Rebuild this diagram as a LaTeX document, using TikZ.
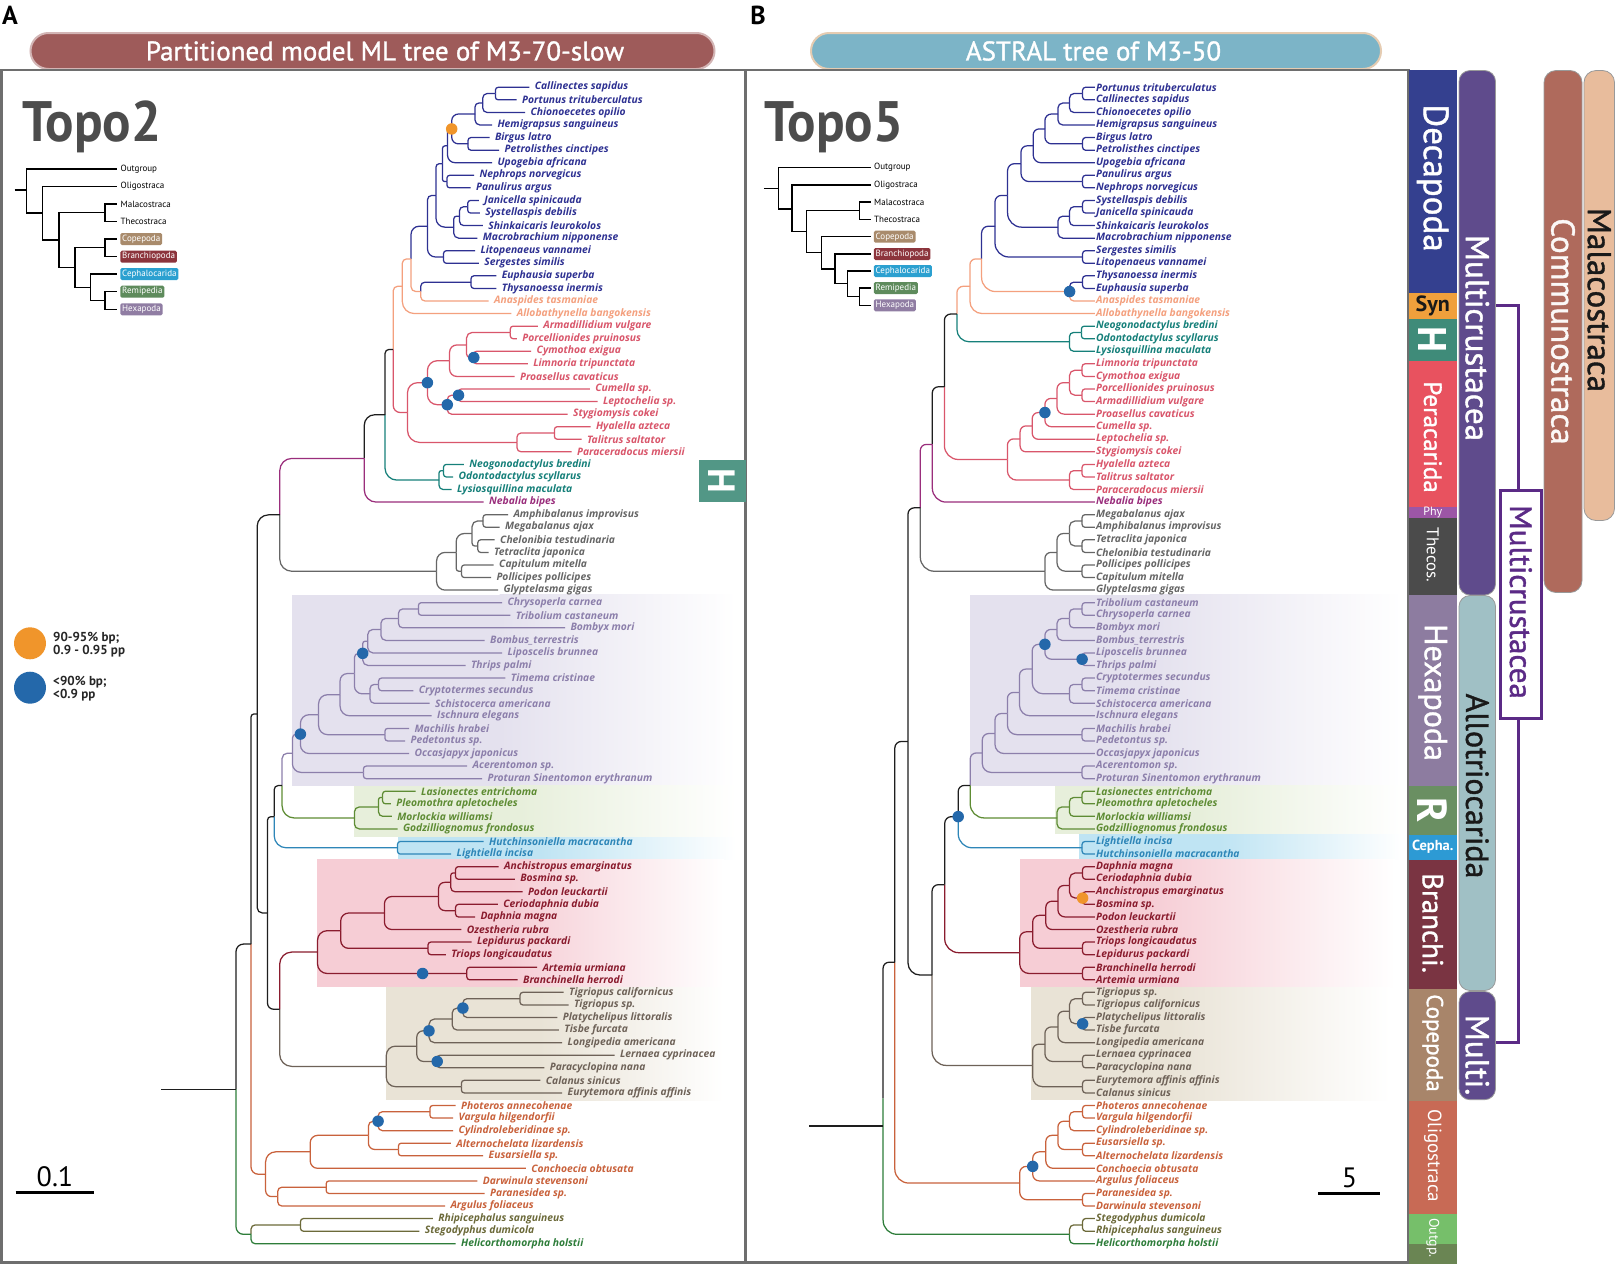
\documentclass[tikz,border=0pt]{standalone}
\usepackage{fontspec}
\setmainfont{PT Sans}
\newfontfamily\leaff{Open Sans}
\newfontfamily\topof[FakeStretch=0.93]{PT Sans}
\newfontfamily\titf[FakeBold=1.2]{PT Sans}
\usetikzlibrary{calc}
\definecolor{cDec}{HTML}{2E3192}
\definecolor{cSyn}{HTML}{F4A07E}
\definecolor{cPer}{HTML}{D9566B}
\definecolor{cSto}{HTML}{16807A}
\definecolor{cPhy}{HTML}{9A2E7C}
\definecolor{cThe}{HTML}{666666}
\definecolor{cHex}{HTML}{8C7FAB}
\definecolor{cRem}{HTML}{5E8C34}
\definecolor{cCep}{HTML}{2E86B8}
\definecolor{cBra}{HTML}{8A1C2E}
\definecolor{cCop}{HTML}{6E6258}
\definecolor{cOli}{HTML}{C9623C}
\definecolor{cOut}{HTML}{2E7D3A}
\definecolor{cOlv}{HTML}{6C6A3A}
\definecolor{cBlk}{HTML}{1E1E1E}
\definecolor{cDotB}{HTML}{2468AA}
\definecolor{cDotO}{HTML}{F0952B}
\definecolor{cFrame}{HTML}{6E6E6E}
\definecolor{bgHex}{HTML}{E4E1EE}
\definecolor{bgRem}{HTML}{E7EFDB}
\definecolor{bgCep}{HTML}{BFE4F3}
\definecolor{bgBra}{HTML}{F6CDD5}
\definecolor{bgCop}{HTML}{E9E3D6}
\definecolor{barDec}{HTML}{34408F}
\definecolor{barSyn}{HTML}{F0A03C}
\definecolor{barH}{HTML}{3F8B79}
\definecolor{barPer}{HTML}{E8525F}
\definecolor{barPhy}{HTML}{9C56A6}
\definecolor{barThe}{HTML}{4B4B4B}
\definecolor{barHex}{HTML}{8D7CA0}
\definecolor{barR}{HTML}{6A8F62}
\definecolor{barCep}{HTML}{2D9AD4}
\definecolor{barBra}{HTML}{7A3442}
\definecolor{barCop}{HTML}{A8856A}
\definecolor{barOli}{HTML}{C86A55}
\definecolor{barOgA}{HTML}{76BF6A}
\definecolor{barOgB}{HTML}{6A8553}
\definecolor{pMul}{HTML}{5F4B8C}
\definecolor{pAll}{HTML}{A0C0C5}
\definecolor{pCom}{HTML}{AF6A5C}
\definecolor{pMal}{HTML}{E8BC9C}
\definecolor{cBrk}{HTML}{5B2A86}
\definecolor{tA}{HTML}{9E5B5A}
\definecolor{tB}{HTML}{7CB4C7}
\definecolor{iCop}{HTML}{A98B6C}
\definecolor{iBra}{HTML}{8C343C}
\definecolor{iCep}{HTML}{2BA0D0}
\definecolor{iRem}{HTML}{5E8B5C}
\definecolor{iHex}{HTML}{907DA3}

\def\lgap{4.5}
\def\rmax{12}
\newcommand\LF[5]{%
  \pgfmathsetmacro\tmpy{87.3+(#2-1)*12.57}%
  \expandafter\xdef\csname Y@#1\endcsname{\tmpy}%
  \expandafter\xdef\csname X@#1\endcsname{#3}%
  \expandafter\xdef\csname C@#1\endcsname{#4}%
  \coordinate (#1) at (#3,\tmpy);%
  \node[leaf, text=#4] (#1t) at ({#3+\lgap},\tmpy) {#5};%
}
\newcommand\RF[4]{\LF{#1}{#2}{1094.8}{#3}{#4}}
\newcommand\Br[2]{%
  \pgfmathsetmacro\rr{max(0,min(\rmax,0.45*abs(\csname Y@#2\endcsname-\csname Y@#1\endcsname),0.5*(\csname X@#2\endcsname-\csname X@#1\endcsname)))}%
  \edef\cc{\csname C@#2\endcsname}%
  \draw[branch, draw=\cc, rounded corners=\rr pt] (#1) |- (#2);%
}
\newcommand\Nd[5]{%
  \pgfmathsetmacro\tmpy{(\csname Y@#4\endcsname+\csname Y@#5\endcsname)/2}%
  \expandafter\xdef\csname Y@#1\endcsname{\tmpy}%
  \expandafter\xdef\csname X@#1\endcsname{#2}%
  \expandafter\xdef\csname C@#1\endcsname{#3}%
  \coordinate (#1) at (#2,\tmpy);%
  \Br{#1}{#4}\Br{#1}{#5}%
}

\tikzset{
  branch/.style={line width=1.25pt},
  leaf/.style={font=\leaff\bfseries\itshape\fontsize{10.3}{12}\selectfont, anchor=west, inner sep=0.8pt},
  bdot/.style={circle, fill=cDotB, inner sep=0pt, minimum size=11.5pt},
  odot/.style={circle, fill=cDotO, inner sep=0pt, minimum size=11.5pt},
  ilab/.style={font=\fontsize{9}{10}\selectfont, anchor=west, inner sep=1pt, text=black},
  ibox/.style={font=\fontsize{9}{10}\selectfont, anchor=west, rounded corners=1.5pt, inner xsep=1.8pt, inner ysep=1.4pt, minimum height=12pt, text=white},
  ibr/.style={line width=1.2pt, draw=black},
  bartxt/.style={rotate=-90, text=white, inner sep=0pt},
  pill/.style={draw=gray!80, line width=0.8pt, rounded corners=11pt},
}

\begin{document}
\begin{tikzpicture}[x=1pt,y=-1pt]
\useasboundingbox (0,0) rectangle (1616,1264);
\fill[white] (0,0) rectangle (1616,1264);

% ---------- headers ----------
\node[font=\bfseries\fontsize{26}{28}\selectfont, inner sep=0] (labA) at (10,15) {A};
\node[font=\bfseries\fontsize{26}{28}\selectfont, inner sep=0] (labB) at (758,15) {B};
\node[draw=tA!45!white, line width=2pt, fill=tA, rounded corners=18pt, minimum width=684pt, minimum height=36pt] (pillA) at (372.5,51) {};
\node[text=white, font=\titf\fontsize{27}{30}\selectfont] (titA) at (385,51) {Partitioned model ML tree of M3-70-slow};
\node[draw=brown!40!white, line width=2pt, fill=tB, rounded corners=18pt, minimum width=570pt, minimum height=36pt] (pillB) at (1096,51) {};
\node[text=white, font=\titf\fontsize{27}{30}\selectfont] (titB) at (1093.5,51) {ASTRAL tree of M3-50};

% ---------- background boxes left ----------
\fill[bgHex] (292.4,594.7) rectangle (500,785.7);
\shade[left color=bgHex, right color=white] (499.5,594.7) rectangle (736,785.7);
\fill[bgRem] (353.7,785.7) rectangle (520,837.3);
\shade[left color=bgRem, right color=white] (519.5,785.7) rectangle (736,837.3);
\fill[bgCep] (397.5,837.3) rectangle (540,859.3);
\shade[left color=bgCep, right color=white] (539.5,837.3) rectangle (736,859.3);
\fill[bgBra] (316.5,859.3) rectangle (510,987.3);
\shade[left color=bgBra, right color=white] (509.5,859.3) rectangle (724,987.3);
\fill[bgCop] (386.3,987.3) rectangle (540,1100);
\shade[left color=bgCop, right color=white] (539.5,987.3) rectangle (724,1100);
% ---------- background boxes right ----------
\fill[bgHex] (970.2,594.7) rectangle (1150,785.7);
\shade[left color=bgHex, right color=white] (1149.5,594.7) rectangle (1402,785.7);
\fill[bgRem] (1055.3,785.7) rectangle (1200,834.3);
\shade[left color=bgRem, right color=white] (1199.5,785.7) rectangle (1402,834.3);
\fill[bgCep] (1078.7,834.3) rectangle (1220,859.3);
\shade[left color=bgCep, right color=white] (1219.5,834.3) rectangle (1402,859.3);
\fill[bgBra] (1020,859.3) rectangle (1150,987.3);
\shade[left color=bgBra, right color=white] (1149.5,859.3) rectangle (1395,987.3);
\fill[bgCop] (1031.4,987.3) rectangle (1170,1100);
\shade[left color=bgCop, right color=white] (1169.5,987.3) rectangle (1390,1100);

% ---------- frames ----------
\draw[cFrame, line width=2.5pt] (1.25,70) rectangle (745.5,1262.5);
\draw[cFrame, line width=2.5pt] (745.5,70) rectangle (1408.5,1262.5);

% ---------- Topo titles ----------
\node[font=\topof\bfseries\fontsize{57}{60}\selectfont, text=black!70, anchor=base west, inner sep=0] (topoA) at (22,141.7) {Topo2};
\node[font=\topof\bfseries\fontsize{57}{60}\selectfont, text=black!70, anchor=base west, inner sep=0] (topoB) at (764,141.7) {Topo5};

% ---------- inset left ----------
\coordinate (iaS) at (14.5,190);
\coordinate (iaR) at (26.7,190);
\coordinate (iaL1) at (117.3,169);
\coordinate (iaL2) at (117.3,186.7);
\coordinate (iaL3) at (117.3,204);
\coordinate (iaL4) at (117.3,221.3);
\coordinate (iaL5) at (117.3,239);
\coordinate (iaL6) at (117.3,256.7);
\coordinate (iaL7) at (117.3,274);
\coordinate (iaL8) at (117.3,291.7);
\coordinate (iaL9) at (117.3,309.3);
\coordinate (iaA) at (42.7,213);
\coordinate (iaB) at (59,240);
\coordinate (iaMT) at (105,212.7);
\coordinate (iaC) at (75,267.6);
\coordinate (iaCB) at (105,247.8);
\coordinate (iaD) at (90.6,287.3);
\coordinate (iaRH) at (105,300.5);
\draw[ibr] (iaS) -- (iaR);
\draw[ibr] (iaR) |- (iaL1); \draw[ibr] (iaR) |- (iaA);
\draw[ibr] (iaA) |- (iaL2); \draw[ibr] (iaA) |- (iaB);
\draw[ibr] (iaB) |- (iaMT); \draw[ibr] (iaB) |- (iaC);
\draw[ibr] (iaMT) |- (iaL3); \draw[ibr] (iaMT) |- (iaL4);
\draw[ibr] (iaC) |- (iaCB); \draw[ibr] (iaC) |- (iaD);
\draw[ibr] (iaCB) |- (iaL5); \draw[ibr] (iaCB) |- (iaL6);
\draw[ibr] (iaD) |- (iaL7); \draw[ibr] (iaD) |- (iaRH);
\draw[ibr] (iaRH) |- (iaL8); \draw[ibr] (iaRH) |- (iaL9);
\node[ilab] (iaT1) at (119.5,169) {Outgroup};
\node[ilab] (iaT2) at (119.5,186.7) {Oligostraca};
\node[ilab] (iaT3) at (119.5,204) {Malacostraca};
\node[ilab] (iaT4) at (119.5,221.3) {Thecostraca};
\node[ibox, fill=iCop] (iaT5) at (120.2,239) {Copepoda};
\node[ibox, fill=iBra] (iaT6) at (120.2,256.7) {Branchiopoda};
\node[ibox, fill=iCep] (iaT7) at (120.2,274) {Cephalocarida};
\node[ibox, fill=iRem] (iaT8) at (120.2,291.7) {Remipedia};
\node[ibox, fill=iHex] (iaT9) at (120.2,309.3) {Hexapoda};

% ---------- inset right ----------
\coordinate (ibS) at (763.9,188.5);
\coordinate (ibR) at (778.2,188.5);
\coordinate (ibL1) at (871,167.7);
\coordinate (ibL2) at (871,185);
\coordinate (ibL3) at (871,202);
\coordinate (ibL4) at (871,219.3);
\coordinate (ibL5) at (871,236.7);
\coordinate (ibL6) at (871,254);
\coordinate (ibL7) at (871,271);
\coordinate (ibL8) at (871,288);
\coordinate (ibL9) at (871,305.3);
\coordinate (ibA) at (792,209);
\coordinate (ibB) at (806.4,231.7);
\coordinate (ibMT) at (859.3,210.7);
\coordinate (ibC) at (821.1,252.8);
\coordinate (ibD) at (835,268.9);
\coordinate (ibE) at (847.6,283.8);
\coordinate (ibRH) at (859.3,296.7);
\draw[ibr] (ibS) -- (ibR);
\draw[ibr] (ibR) |- (ibL1); \draw[ibr] (ibR) |- (ibA);
\draw[ibr] (ibA) |- (ibL2); \draw[ibr] (ibA) |- (ibB);
\draw[ibr] (ibB) |- (ibMT); \draw[ibr] (ibB) |- (ibC);
\draw[ibr] (ibMT) |- (ibL3); \draw[ibr] (ibMT) |- (ibL4);
\draw[ibr] (ibC) |- (ibL5); \draw[ibr] (ibC) |- (ibD);
\draw[ibr] (ibD) |- (ibL6); \draw[ibr] (ibD) |- (ibE);
\draw[ibr] (ibE) |- (ibL7); \draw[ibr] (ibE) |- (ibRH);
\draw[ibr] (ibRH) |- (ibL8); \draw[ibr] (ibRH) |- (ibL9);
\node[ilab] (ibT1) at (873,167.7) {Outgroup};
\node[ilab] (ibT2) at (873,185) {Oligostraca};
\node[ilab] (ibT3) at (873,202) {Malacostraca};
\node[ilab] (ibT4) at (873,219.3) {Thecostraca};
\node[ibox, fill=iCop] (ibT5) at (873.6,236.7) {Copepoda};
\node[ibox, fill=iBra] (ibT6) at (873.6,254) {Branchiopoda};
\node[ibox, fill=iCep] (ibT7) at (873.6,271) {Cephalocarida};
\node[ibox, fill=iRem] (ibT8) at (873.6,288) {Remipedia};
\node[ibox, fill=iHex] (ibT9) at (873.6,305.3) {Hexapoda};

% ---------- legend ----------
\node[circle, fill=cDotO, inner sep=0, minimum size=32pt] (lgO) at (30,643.3) {};
\node[circle, fill=cDotB, inner sep=0, minimum size=32pt] (lgB) at (30,687.7) {};
\node[font=\bfseries\fontsize{13}{14}\selectfont, anchor=west, inner sep=0, text=black!85] (lg1) at (53,637.7) {90-95\% bp;};
\node[font=\bfseries\fontsize{13}{14}\selectfont, anchor=west, inner sep=0, text=black!85] (lg2) at (53,651) {0.9 - 0.95 pp};
\node[font=\bfseries\fontsize{13}{14}\selectfont, anchor=west, inner sep=0, text=black!85] (lg3) at (53,681.7) {<90\% bp;};
\node[font=\bfseries\fontsize{13}{14}\selectfont, anchor=west, inner sep=0, text=black!85] (lg4) at (53,695) {<0.9 pp};

% ---------- H box left ----------
\fill[barH!90!white] (699,460) rectangle (745.5,501.7);
\node[bartxt, font=\bfseries\fontsize{38}{40}\selectfont] (hA) at (722,481) {H};

% ---------- scale bars ----------
\coordinate (sa1) at (15.5,1192.7); \coordinate (sa2) at (93.5,1192.7);
\draw[line width=2.5pt] (sa1) -- (sa2);
\node[font=\fontsize{28}{30}\selectfont] (saT) at (55,1177) {0.1};
\coordinate (sb1) at (1318,1193.3); \coordinate (sb2) at (1379.7,1193.3);
\draw[line width=2.5pt] (sb1) -- (sb2);
\node[font=\fontsize{28}{30}\selectfont] (sbT) at (1349.4,1178) {5};

% ================= LEFT TREE =================
\def\lgap{4.5}
\def\rmax{12}
\LF{a1}{1}{529.3}{cDec}{Callinectes sapidus}
\LF{a2}{2}{516.7}{cDec}{Portunus trituberculatus}
\LF{a3}{3}{525}{cDec}{Chionoecetes opilio}
\LF{a4}{4}{492}{cDec}{Hemigrapsus sanguineus}
\LF{a5}{5}{489.5}{cDec}{Birgus latro}
\LF{a6}{6}{499.2}{cDec}{Petrolisthes cinctipes}
\LF{a7}{7}{492}{cDec}{Upogebia africana}
\LF{a8}{8}{474}{cDec}{Nephrops norvegicus}
\LF{a9}{9}{470.6}{cDec}{Panulirus argus}
\LF{a10}{10}{478.9}{cDec}{Janicella spinicauda}
\LF{a11}{11}{479.9}{cDec}{Systellaspis debilis}
\LF{a12}{12}{482.8}{cDec}{Shinkaicaris leurokolos}
\LF{a13}{13}{477.4}{cDec}{Macrobrachium nipponense}
\LF{a14}{14}{475}{cDec}{Litopenaeus vannamei}
\LF{a15}{15}{478.9}{cDec}{Sergestes similis}
\LF{a16}{16}{496.3}{cDec}{Euphausia superba}
\LF{a17}{17}{496.3}{cDec}{Thysanoessa inermis}
\LF{a18}{18}{488.6}{cSyn}{Anaspides tasmaniae}
\LF{a19}{19}{511.4}{cSyn}{Allobathynella bangokensis}
\LF{a20}{20}{537.8}{cPer}{Armadillidium vulgare}
\LF{a21}{21}{516.9}{cPer}{Porcellionides pruinosus}
\LF{a22}{22}{531.2}{cPer}{Cymothoa exigua}
\LF{a23}{23}{527.8}{cPer}{Limnoria tripunctata}
\LF{a24}{24}{514.6}{cPer}{Proasellus cavaticus}
\LF{a25}{25}{589.8}{cPer}{Cumella sp.}
\LF{a26}{26}{597.5}{cPer}{Leptochelia sp.}
\LF{a27}{27}{567.6}{cPer}{Stygiomysis cokei}
\LF{a28}{28}{590.5}{cPer}{Hyalella azteca}
\LF{a29}{29}{581.5}{cPer}{Talitrus saltator}
\LF{a30}{30}{571.6}{cPer}{Paraceradocus miersii}
\LF{a31}{31}{463.8}{cSto}{Neogonodactylus bredini}
\LF{a32}{32}{453.2}{cSto}{Odontodactylus scyllarus}
\LF{a33}{33}{451.6}{cSto}{Lysiosquillina maculata}
\LF{a34}{34}{483.7}{cPhy}{Nebalia bipes}
\LF{a35}{35}{508}{cThe}{Amphibalanus improvisus}
\LF{a36}{36}{499.6}{cThe}{Megabalanus ajax}
\LF{a37}{37}{494.7}{cThe}{Chelonibia testudinaria}
\LF{a38}{38}{488.7}{cThe}{Tetraclita japonica}
\LF{a39}{39}{493.7}{cThe}{Capitulum mitella}
\LF{a40}{40}{491}{cThe}{Pollicipes pollicipes}
\LF{a41}{41}{498}{cThe}{Glyptelasma gigas}
\LF{a42}{42}{502}{cHex}{Chrysoperla carnea}
\LF{a43}{43}{510.3}{cHex}{Tribolium castaneum}
\LF{a44}{44}{565}{cHex}{Bombyx mori}
\LF{a45}{45}{484.7}{cHex}{Bombus\_terrestris}
\LF{a46}{46}{502}{cHex}{Liposcelis brunnea}
\LF{a47}{47}{465.5}{cHex}{Thrips palmi}
\LF{a48}{48}{505.3}{cHex}{Timema cristinae}
\LF{a49}{49}{413.4}{cHex}{Cryptotermes secundus}
\LF{a50}{50}{429.7}{cHex}{Schistocerca americana}
\LF{a51}{51}{431.7}{cHex}{Ischnura elegans}
\LF{a52}{52}{409.1}{cHex}{Machilis hrabei}
\LF{a53}{53}{405.1}{cHex}{Pedetontus sp.}
\LF{a54}{54}{409.1}{cHex}{Occasjapyx japonicus}
\LF{a55}{55}{467.1}{cHex}{Acerentomon sp.}
\LF{a56}{56}{482.1}{cHex}{Proturan Sinentomon erythranum}
\LF{a57}{57}{415.7}{cRem}{Lasionectes entrichoma}
\LF{a58}{58}{390.9}{cRem}{Pleomothra apletocheles}
\LF{a59}{59}{391.9}{cRem}{Morlockia williamsi}
\LF{a60}{60}{397.5}{cRem}{Godzilliognomus frondosus}
\LF{a61}{61}{483.7}{cCep}{Hutchinsoniella macracantha}
\LF{a62}{62}{451.2}{cCep}{Lightiella incisa}
\LF{a63}{63}{498.6}{cBra}{Anchistropus emarginatus}
\LF{a64}{64}{514.8}{cBra}{Bosmina sp.}
\LF{a65}{65}{522.5}{cBra}{Podon leuckartii}
\LF{a66}{66}{497.8}{cBra}{Ceriodaphnia dubia}
\LF{a67}{67}{475}{cBra}{Daphnia magna}
\LF{a68}{68}{461.4}{cBra}{Ozestheria rubra}
\LF{a69}{69}{471.6}{cBra}{Lepidurus packardi}
\LF{a70}{70}{445.9}{cBra}{Triops longicaudatus}
\LF{a71}{71}{537}{cBra}{Artemia urmiana}
\LF{a72}{72}{517.7}{cBra}{Branchinella herrodi}
\LF{a73}{73}{563.7}{cCop}{Tigriopus californicus}
\LF{a74}{74}{568.5}{cCop}{Tigriopus sp.}
\LF{a75}{75}{557.4}{cCop}{Platychelipus littoralis}
\LF{a76}{76}{558.9}{cCop}{Tisbe furcata}
\LF{a77}{77}{562.2}{cCop}{Longipedia americana}
\LF{a78}{78}{614.6}{cCop}{Lernaea cyprinacea}
\LF{a79}{79}{544.3}{cCop}{Paracyclopina nana}
\LF{a80}{80}{540.4}{cCop}{Calanus sinicus}
\LF{a81}{81}{562.2}{cCop}{Eurytemora affinis affinis}
\LF{a82}{82}{455.6}{cOli}{Photeros annecohenae}
\LF{a83}{83}{453.2}{cOli}{Vargula hilgendorfii}
\LF{a84}{84}{453.2}{cOli}{Cylindroleberidinae sp.}
\LF{a85}{85}{450.8}{cOli}{Alternochelata lizardensis}
\LF{a86}{86}{483.2}{cOli}{Eusarsiella sp.}
\LF{a87}{87}{525.9}{cOli}{Conchoecia obtusata}
\LF{a88}{88}{477.4}{cOli}{Darwinula stevensoni}
\LF{a89}{89}{484.7}{cOli}{Paranesidea sp.}
\LF{a90}{90}{445}{cOli}{Argulus foliaceus}
\LF{a91}{91}{432.8}{cOlv}{Rhipicephalus sanguineus}
\LF{a92}{92}{419.3}{cOlv}{Stegodyphus dumicola}
\LF{a93}{93}{455.6}{cOut}{Helicorthomorpha holstii}

\Nd{aN1}{495.4}{cDec}{a1}{a2}
\Nd{aN2}{482.8}{cDec}{aN1}{a3}
\Nd{aCrab}{475}{cDec}{aN2}{a4}
\Nd{aAno}{468}{cDec}{a5}{a6}
\Nd{aCA}{451.7}{cDec}{aCrab}{aAno}
\Nd{aUpo}{447.5}{cDec}{aCA}{a7}
\Nd{aNP}{446.9}{cDec}{a8}{a9}
\Nd{aRep}{442.5}{cDec}{aUpo}{aNP}
\Nd{aJS}{467.7}{cDec}{a10}{a11}
\Nd{aJSS}{459.5}{cDec}{aJS}{a12}
\Nd{aCar}{453.7}{cDec}{aJSS}{a13}
\Nd{aPle}{436}{cDec}{aRep}{aCar}
\Nd{aDen}{443.5}{cDec}{a14}{a15}
\Nd{aDec}{427.5}{cDec}{aPle}{aDen}
\Nd{aEup}{471}{cDec}{a16}{a17}
\Nd{aEA}{420.7}{cSyn}{aEup}{a18}
\Nd{aX2}{411}{cSyn}{aDec}{aEA}
\Nd{aX1}{402.3}{cSyn}{aX2}{a19}
\Nd{aP1}{510.3}{cPer}{a20}{a21}
\Nd{aP2}{473.8}{cPer}{a22}{a23}
\Nd{aP3}{466.5}{cPer}{aP1}{aP2}
\Nd{aP4}{449.6}{cPer}{aP3}{a24}
\Nd{aP5}{458.5}{cPer}{a25}{a26}
\Nd{aP6}{447.3}{cPer}{aP5}{a27}
\Nd{aP7}{427.4}{cPer}{aP4}{aP6}
\Nd{aP8}{554.4}{cPer}{a28}{a29}
\Nd{aP9}{516.9}{cPer}{aP8}{a30}
\Nd{aPer}{407.5}{cPer}{aP7}{aP9}
\Nd{aZ}{393.2}{cBlk}{aX1}{aPer}
\Nd{aS1}{443.5}{cSto}{a31}{a32}
\Nd{aSto}{439}{cSto}{aS1}{a33}
\Nd{aE}{385}{cBlk}{aZ}{aSto}
\Nd{aMal}{364.3}{cPhy}{aE}{a34}
\Nd{aT1}{483}{cThe}{a35}{a36}
\Nd{aT2}{477.8}{cThe}{a37}{a38}
\Nd{aT3}{472.1}{cThe}{aT1}{aT2}
\Nd{aT4}{461.5}{cThe}{a39}{a40}
\Nd{aT5}{456.2}{cThe}{aT3}{aT4}
\Nd{aThe}{436.6}{cThe}{aT5}{a41}
\Nd{aMT}{279.8}{cBlk}{aMal}{aThe}
\Nd{aH1}{418.4}{cHex}{a42}{a43}
\Nd{aH2}{398.5}{cHex}{aH1}{a44}
\Nd{aH3}{380.9}{cHex}{aH2}{a45}
\Nd{aH4}{367.7}{cHex}{aH3}{a46}
\Nd{aH5}{362.7}{cHex}{aH4}{a47}
\Nd{aH6}{378.6}{cHex}{a48}{a49}
\Nd{aH7}{370}{cHex}{aH6}{a50}
\Nd{aH8}{354.4}{cHex}{aH5}{aH7}
\Nd{aH9}{340.1}{cHex}{aH8}{a51}
\Nd{aH10}{384.9}{cHex}{a52}{a53}
\Nd{aH11}{318.6}{cHex}{aH9}{aH10}
\Nd{aH12}{300.4}{cHex}{aH11}{a54}
\Nd{aH13}{363.4}{cHex}{a55}{a56}
\Nd{aHex}{292.4}{cHex}{aH12}{aH13}
\Nd{aR1}{382.6}{cRem}{a57}{a58}
\Nd{aR2}{378.6}{cRem}{aR1}{a59}
\Nd{aRem}{354.4}{cRem}{aR2}{a60}
\Nd{aRH}{282.1}{cBlk}{aHex}{aRem}
\Nd{aCep}{397.5}{cCep}{a61}{a62}
\Nd{aC}{274.2}{cBlk}{aRH}{aCep}
\Nd{aB1}{455.5}{cBra}{a63}{a64}
\Nd{aB2}{450.8}{cBra}{aB1}{a65}
\Nd{aB3}{455.6}{cBra}{a66}{a67}
\Nd{aB4}{438.6}{cBra}{aB2}{aB3}
\Nd{aB5}{384.4}{cBra}{aB4}{a68}
\Nd{aB6}{428}{cBra}{a69}{a70}
\Nd{aB7}{340.7}{cBra}{aB5}{aB6}
\Nd{aB8}{466.8}{cBra}{a71}{a72}
\Nd{aBra}{317.5}{cBra}{aB7}{aB8}
\Nd{aK1}{520}{cCop}{a73}{a74}
\Nd{aK2}{462.9}{cCop}{aK1}{a75}
\Nd{aK3}{452.2}{cCop}{aK2}{a76}
\Nd{aK4}{429}{cCop}{aK3}{a77}
\Nd{aK5}{437.2}{cCop}{a78}{a79}
\Nd{aK6}{416.8}{cCop}{aK4}{aK5}
\Nd{aK7}{461.4}{cCop}{a80}{a81}
\Nd{aCop}{386.3}{cCop}{aK6}{aK7}
\Nd{aCB}{279.7}{cBlk}{aBra}{aCop}
\Nd{aN}{267.5}{cBlk}{aC}{aCB}
\Nd{aQ}{257.2}{cBlk}{aMT}{aN}
\Nd{aO1}{429.9}{cOli}{a82}{a83}
\Nd{aO2}{378.1}{cOli}{aO1}{a84}
\Nd{aO3}{398.4}{cOli}{a85}{a86}
\Nd{aO4}{368.4}{cOli}{aO2}{aO3}
\Nd{aO5}{310.2}{cOli}{aO4}{a87}
\Nd{aO6}{326.2}{cOli}{a88}{a89}
\Nd{aO7}{277.7}{cOli}{aO6}{a90}
\Nd{aOli}{265.6}{cOli}{aO5}{aO7}
\Nd{aP}{251}{cBlk}{aQ}{aOli}
\Nd{aG1}{300.5}{cOlv}{a91}{a92}
\Nd{aOut}{251}{cOut}{aG1}{a93}
\Nd{aRoot}{236}{cBlk}{aP}{aOut}
\path (aRoot) ++(-74.6,0) coordinate (aStub);
\draw[branch, draw=cBlk] (aStub) -- (aRoot);

\node[odot] (dA1) at (aCA) {};
\node[bdot] (dA2) at (aP2) {};
\node[bdot] (dA3) at (aP7) {};
\node[bdot] (dA4) at (aP5) {};
\node[bdot] (dA5) at (aP6) {};
\node[bdot] (dA6) at (aH5) {};
\node[bdot] (dA7) at (aH12) {};
\node[bdot] (dA8) at ($(aB8)+(-44.2,0)$) {};
\node[bdot] (dA9) at (aK2) {};
\node[bdot] (dA10) at (aK4) {};
\node[bdot] (dA11) at (aK5) {};
\node[bdot] (dA12) at (aO2) {};

% ================= RIGHT TREE =================
\def\lgap{0.3}
\def\rmax{14}
\RF{b1}{1}{cDec}{Portunus trituberculatus}
\RF{b2}{2}{cDec}{Callinectes sapidus}
\RF{b3}{3}{cDec}{Chionoecetes opilio}
\RF{b4}{4}{cDec}{Hemigrapsus sanguineus}
\RF{b5}{5}{cDec}{Birgus latro}
\RF{b6}{6}{cDec}{Petrolisthes cinctipes}
\RF{b7}{7}{cDec}{Upogebia africana}
\RF{b8}{8}{cDec}{Panulirus argus}
\RF{b9}{9}{cDec}{Nephrops norvegicus}
\RF{b10}{10}{cDec}{Systellaspis debilis}
\RF{b11}{11}{cDec}{Janicella spinicauda}
\RF{b12}{12}{cDec}{Shinkaicaris leurokolos}
\RF{b13}{13}{cDec}{Macrobrachium nipponense}
\RF{b14}{14}{cDec}{Sergestes similis}
\RF{b15}{15}{cDec}{Litopenaeus vannamei}
\RF{b16}{16}{cDec}{Thysanoessa inermis}
\RF{b17}{17}{cDec}{Euphausia superba}
\RF{b18}{18}{cSyn}{Anaspides tasmaniae}
\RF{b19}{19}{cSyn}{Allobathynella bangokensis}
\RF{b20}{20}{cSto}{Neogonodactylus bredini}
\RF{b21}{21}{cSto}{Odontodactylus scyllarus}
\RF{b22}{22}{cSto}{Lysiosquillina maculata}
\RF{b23}{23}{cPer}{Limnoria tripunctata}
\RF{b24}{24}{cPer}{Cymothoa exigua}
\RF{b25}{25}{cPer}{Porcellionides pruinosus}
\RF{b26}{26}{cPer}{Armadillidium vulgare}
\RF{b27}{27}{cPer}{Proasellus cavaticus}
\RF{b28}{28}{cPer}{Cumella sp.}
\RF{b29}{29}{cPer}{Leptochelia sp.}
\RF{b30}{30}{cPer}{Stygiomysis cokei}
\RF{b31}{31}{cPer}{Hyalella azteca}
\RF{b32}{32}{cPer}{Talitrus saltator}
\RF{b33}{33}{cPer}{Paraceradocus miersii}
\RF{b34}{34}{cPhy}{Nebalia bipes}
\RF{b35}{35}{cThe}{Megabalanus ajax}
\RF{b36}{36}{cThe}{Amphibalanus improvisus}
\RF{b37}{37}{cThe}{Tetraclita japonica}
\RF{b38}{38}{cThe}{Chelonibia testudinaria}
\RF{b39}{39}{cThe}{Pollicipes pollicipes}
\RF{b40}{40}{cThe}{Capitulum mitella}
\RF{b41}{41}{cThe}{Glyptelasma gigas}
\RF{b42}{42}{cHex}{Tribolium castaneum}
\RF{b43}{43}{cHex}{Chrysoperla carnea}
\RF{b44}{44}{cHex}{Bombyx mori}
\RF{b45}{45}{cHex}{Bombus\_terrestris}
\RF{b46}{46}{cHex}{Liposcelis brunnea}
\RF{b47}{47}{cHex}{Thrips palmi}
\RF{b48}{48}{cHex}{Cryptotermes secundus}
\RF{b49}{49}{cHex}{Timema cristinae}
\RF{b50}{50}{cHex}{Schistocerca americana}
\RF{b51}{51}{cHex}{Ischnura elegans}
\RF{b52}{52}{cHex}{Machilis hrabei}
\RF{b53}{53}{cHex}{Pedetontus sp.}
\RF{b54}{54}{cHex}{Occasjapyx japonicus}
\RF{b55}{55}{cHex}{Acerentomon sp.}
\RF{b56}{56}{cHex}{Proturan Sinentomon erythranum}
\RF{b57}{57}{cRem}{Lasionectes entrichoma}
\RF{b58}{58}{cRem}{Pleomothra apletocheles}
\RF{b59}{59}{cRem}{Morlockia williamsi}
\RF{b60}{60}{cRem}{Godzilliognomus frondosus}
\RF{b61}{61}{cCep}{Lightiella incisa}
\RF{b62}{62}{cCep}{Hutchinsoniella macracantha}
\RF{b63}{63}{cBra}{Daphnia magna}
\RF{b64}{64}{cBra}{Ceriodaphnia dubia}
\RF{b65}{65}{cBra}{Anchistropus emarginatus}
\RF{b66}{66}{cBra}{Bosmina sp.}
\RF{b67}{67}{cBra}{Podon leuckartii}
\RF{b68}{68}{cBra}{Ozestheria rubra}
\RF{b69}{69}{cBra}{Triops longicaudatus}
\RF{b70}{70}{cBra}{Lepidurus packardi}
\RF{b71}{71}{cBra}{Branchinella herrodi}
\RF{b72}{72}{cBra}{Artemia urmiana}
\RF{b73}{73}{cCop}{Tigriopus sp.}
\RF{b74}{74}{cCop}{Tigriopus californicus}
\RF{b75}{75}{cCop}{Platychelipus littoralis}
\RF{b76}{76}{cCop}{Tisbe furcata}
\RF{b77}{77}{cCop}{Longipedia americana}
\RF{b78}{78}{cCop}{Lernaea cyprinacea}
\RF{b79}{79}{cCop}{Paracyclopina nana}
\RF{b80}{80}{cCop}{Eurytemora affinis affinis}
\RF{b81}{81}{cCop}{Calanus sinicus}
\RF{b82}{82}{cOli}{Photeros annecohenae}
\RF{b83}{83}{cOli}{Vargula hilgendorfii}
\RF{b84}{84}{cOli}{Cylindroleberidinae sp.}
\RF{b85}{85}{cOli}{Eusarsiella sp.}
\RF{b86}{86}{cOli}{Alternochelata lizardensis}
\RF{b87}{87}{cOli}{Conchoecia obtusata}
\RF{b88}{88}{cOli}{Argulus foliaceus}
\RF{b89}{89}{cOli}{Paranesidea sp.}
\RF{b90}{90}{cOli}{Darwinula stevensoni}
\RF{b91}{91}{cOlv}{Stegodyphus dumicola}
\RF{b92}{92}{cOlv}{Rhipicephalus sanguineus}
\RF{b93}{93}{cOut}{Helicorthomorpha holstii}

\Nd{bN1}{1082.6}{cDec}{b1}{b2}
\Nd{bN2}{1069.6}{cDec}{bN1}{b3}
\Nd{bCrab}{1057.9}{cDec}{bN2}{b4}
\Nd{bAno}{1082.6}{cDec}{b5}{b6}
\Nd{bCA}{1044.9}{cDec}{bCrab}{bAno}
\Nd{bUpo}{1033.2}{cDec}{bCA}{b7}
\Nd{bNP}{1082.6}{cDec}{b8}{b9}
\Nd{bRep}{1021}{cDec}{bUpo}{bNP}
\Nd{bJS}{1082.6}{cDec}{b10}{b11}
\Nd{bJSS}{1069.6}{cDec}{bJS}{b12}
\Nd{bCar}{1057.9}{cDec}{bJSS}{b13}
\Nd{bPle}{1007.6}{cDec}{bRep}{bCar}
\Nd{bDen}{1082.6}{cDec}{b14}{b15}
\Nd{bDec}{995}{cDec}{bPle}{bDen}
\Nd{bEup}{1082.6}{cDec}{b16}{b17}
\Nd{bEA}{1069.6}{cSyn}{bEup}{b18}
\Nd{bX2}{981.6}{cSyn}{bDec}{bEA}
\Nd{bX1}{969.9}{cSyn}{bX2}{b19}
\Nd{bS1}{1081.4}{cSto}{b20}{b21}
\Nd{bSto}{1069.4}{cSto}{bS1}{b22}
\Nd{bY}{956.9}{cBlk}{bX1}{bSto}
\Nd{bP1}{1082.1}{cPer}{b23}{b24}
\Nd{bP2}{1082.1}{cPer}{b25}{b26}
\Nd{bP3}{1069.4}{cPer}{bP1}{bP2}
\Nd{bP4}{1057}{cPer}{bP3}{b27}
\Nd{bP5}{1044.9}{cPer}{bP4}{b28}
\Nd{bP6}{1032.2}{cPer}{bP5}{b29}
\Nd{bP7}{1020.1}{cPer}{bP6}{b30}
\Nd{bP8}{1082.1}{cPer}{b31}{b32}
\Nd{bP9}{1069.4}{cPer}{bP8}{b33}
\Nd{bPer}{1007.4}{cPer}{bP7}{bP9}
\Nd{bYP}{944.4}{cBlk}{bY}{bPer}
\Nd{bMal}{932.3}{cPhy}{bYP}{b34}
\Nd{bT1}{1082.1}{cThe}{b35}{b36}
\Nd{bT2}{1082.1}{cThe}{b37}{b38}
\Nd{bT3}{1069.4}{cThe}{bT1}{bT2}
\Nd{bT4}{1082.1}{cThe}{b39}{b40}
\Nd{bT5}{1057}{cThe}{bT3}{bT4}
\Nd{bThe}{1044.9}{cThe}{bT5}{b41}
\Nd{bMT}{920.3}{cBlk}{bMal}{bThe}
\Nd{bH1}{1082.1}{cHex}{b42}{b43}
\Nd{bH2}{1069.4}{cHex}{bH1}{b44}
\Nd{bH3}{1057}{cHex}{bH2}{b45}
\Nd{bH4}{1082.1}{cHex}{b46}{b47}
\Nd{bH5}{1044.9}{cHex}{bH3}{bH4}
\Nd{bH6}{1082.1}{cHex}{b48}{b49}
\Nd{bH7}{1069.4}{cHex}{bH6}{b50}
\Nd{bH8}{1032.2}{cHex}{bH5}{bH7}
\Nd{bH9}{1019.5}{cHex}{bH8}{b51}
\Nd{bH10}{1082.1}{cHex}{b52}{b53}
\Nd{bH11}{1007.4}{cHex}{bH9}{bH10}
\Nd{bH12}{995}{cHex}{bH11}{b54}
\Nd{bH13}{1082.1}{cHex}{b55}{b56}
\Nd{bHex}{982.3}{cHex}{bH12}{bH13}
\Nd{bR1}{1082.1}{cRem}{b57}{b58}
\Nd{bR2}{1069.4}{cRem}{bR1}{b59}
\Nd{bRem}{1057}{cRem}{bR2}{b60}
\Nd{bRH}{970.2}{cBlk}{bHex}{bRem}
\Nd{bCep}{1082.1}{cCep}{b61}{b62}
\Nd{bC}{958.2}{cBlk}{bRH}{bCep}
\Nd{bB1}{1082.6}{cBra}{b63}{b64}
\Nd{bB2}{1082.6}{cBra}{b65}{b66}
\Nd{bB3}{1069.6}{cBra}{bB1}{bB2}
\Nd{bB4}{1057.9}{cBra}{bB3}{b67}
\Nd{bB5}{1045.8}{cBra}{bB4}{b68}
\Nd{bB6}{1082.6}{cBra}{b69}{b70}
\Nd{bB7}{1032.7}{cBra}{bB5}{bB6}
\Nd{bB8}{1082.6}{cBra}{b71}{b72}
\Nd{bBra}{1019.7}{cBra}{bB7}{bB8}
\Nd{bBC}{944.7}{cBlk}{bC}{bBra}
\Nd{bK1}{1082.6}{cCop}{b73}{b74}
\Nd{bK2}{1082.6}{cCop}{b75}{b76}
\Nd{bK3}{1069.6}{cCop}{bK1}{bK2}
\Nd{bK4}{1057.9}{cCop}{bK3}{b77}
\Nd{bK5}{1082.6}{cCop}{b78}{b79}
\Nd{bK6}{1044.9}{cCop}{bK4}{bK5}
\Nd{bK7}{1082.6}{cCop}{b80}{b81}
\Nd{bCop}{1032.7}{cCop}{bK6}{bK7}
\Nd{bCBC}{932.1}{cBlk}{bBC}{bCop}
\Nd{bQ}{908}{cBlk}{bMT}{bCBC}
\Nd{bO1}{1082.6}{cOli}{b82}{b83}
\Nd{bO2}{1069.6}{cOli}{bO1}{b84}
\Nd{bO3}{1082.6}{cOli}{b85}{b86}
\Nd{bO4}{1057.9}{cOli}{bO2}{bO3}
\Nd{bO5}{1045.8}{cOli}{bO4}{b87}
\Nd{bO6}{1032.7}{cOli}{bO5}{b88}
\Nd{bO7}{1082.6}{cOli}{b89}{b90}
\Nd{bOli}{1019.7}{cOli}{bO6}{bO7}
\Nd{bP}{894.8}{cBlk}{bQ}{bOli}
\Nd{bG1}{1082.6}{cOlv}{b91}{b92}
\Nd{bOut}{1069.6}{cOut}{bG1}{b93}
\Nd{bRoot}{883.1}{cBlk}{bP}{bOut}
\coordinate (bStub) at (809.4,1126);
\coordinate (bStubE) at (883.1,1126);
\draw[branch, draw=cBlk] (bStub) -- (bStubE);

\node[bdot] (dB1) at (bEA) {};
\node[bdot] (dB2) at (bP5) {};
\node[bdot] (dB3) at (bH5) {};
\node[bdot] (dB4) at (bH4) {};
\node[bdot] (dB5) at (bC) {};
\node[odot] (dB6) at (bB2) {};
\node[bdot] (dB7) at (bK2) {};
\node[bdot] (dB8) at (bO6) {};

% ================= SIDE BARS =================
\fill[barDec] (1408.5,70) rectangle (1457,292.7);
\fill[barSyn] (1408.5,292.7) rectangle (1457,318.5);
\fill[barH] (1408.5,318.5) rectangle (1457,360.7);
\fill[barPer] (1408.5,360.7) rectangle (1457,507);
\fill[barPhy] (1408.5,507) rectangle (1457,518.4);
\fill[barThe] (1408.5,518.4) rectangle (1457,594.7);
\fill[barHex] (1408.5,594.7) rectangle (1457,786.3);
\fill[barR] (1408.5,786.3) rectangle (1457,835);
\fill[barCep] (1408.5,835) rectangle (1457,859.6);
\fill[barBra] (1408.5,859.6) rectangle (1457,988.8);
\fill[barCop] (1408.5,988.8) rectangle (1457,1100.6);
\fill[barOli] (1408.5,1100.6) rectangle (1457,1214);
\fill[barOgA] (1408.5,1214) rectangle (1457,1243.7);
\fill[barOgB] (1408.5,1243.7) rectangle (1457,1264);

\node[bartxt, font=\titf\fontsize{35}{38}\selectfont] (tDec) at (1432.75,178) {Decapoda};
\node[font=\bfseries\fontsize{22}{24}\selectfont, text=black!90, inner sep=0] (tSyn) at (1432.75,305.6) {Syn};
\node[bartxt, font=\bfseries\fontsize{40}{42}\selectfont] (tH) at (1432.75,339.6) {H};
\node[bartxt, font=\titf\fontsize{25}{27}\selectfont] (tPer) at (1432.75,437) {Peracarida};
\node[font=\fontsize{12}{13}\selectfont, text=white, inner sep=0] (tPhy) at (1432.75,512.7) {Phy};
\node[bartxt, font=\fontsize{17}{19}\selectfont] (tThe) at (1432.75,555) {Thecos.};
\node[bartxt, font=\titf\fontsize{32}{34}\selectfont] (tHex) at (1432.75,692.5) {Hexapoda};
\node[bartxt, font=\bfseries\fontsize{42}{44}\selectfont] (tR) at (1432.75,810.5) {R};
\node[font=\bfseries\fontsize{14.5}{16}\selectfont, text=white, inner sep=0] (tCep) at (1432.75,847) {Cepha.};
\node[bartxt, font=\titf\fontsize{29}{31}\selectfont] (tBra) at (1432.75,923) {Branchi.};
\node[bartxt, font=\titf\fontsize{23}{25}\selectfont] (tCop) at (1432.75,1043) {Copepoda};
\node[bartxt, font=\fontsize{19}{21}\selectfont] (tOli) at (1432.75,1156) {Oligostraca};
\node[bartxt, font=\fontsize{14}{16}\selectfont] (tOut) at (1432.75,1238) {Outgp.};

% pills
\draw[pill, fill=pMul] (1459,70.5) rectangle (1495.5,595);
\draw[pill, fill=pAll] (1459,595.5) rectangle (1495.5,990.5);
\draw[pill, fill=pMul] (1459,991.5) rectangle (1495.5,1099.7);
\draw[pill, fill=pCom, rounded corners=12pt] (1544,70.5) rectangle (1582,592.5);
\draw[pill, fill=pMal, rounded corners=12pt] (1584,70.5) rectangle (1614.5,520.5);

\coordinate (bkA) at (1495.5,305);
\coordinate (bkC) at (1518.3,305);
\coordinate (bkD) at (1518.3,1042.6);
\coordinate (bkB) at (1495.5,1042.6);
\draw[cBrk, line width=3pt] (bkA) -- (bkC) -- (bkD) -- (bkB);
\draw[cBrk, line width=3pt, fill=white] (1500.3,490.6) rectangle (1541.2,718.5);

\node[bartxt, font=\titf\fontsize{33}{35}\selectfont] (tMul) at (1477.25,338) {Multicrustacea};
\node[bartxt, text=black!90, font=\titf\fontsize{32}{34}\selectfont] (tAll) at (1477.25,786) {Allotriocarida};
\node[bartxt, font=\titf\fontsize{33}{35}\selectfont] (tMu2) at (1477.25,1055) {Multi.};
\node[bartxt, text=cBrk, font=\titf\fontsize{31}{33}\selectfont] (tMu3) at (1520.8,602) {Multicrustacea};
\node[bartxt, text=white!95!pCom, font=\titf\fontsize{33}{35}\selectfont] (tCom) at (1563,331.5) {Communostraca};
\node[bartxt, text=black!90, font=\titf\fontsize{33}{35}\selectfont] (tMal) at (1599.2,300) {Malacostraca};
\end{tikzpicture}
\end{document}
